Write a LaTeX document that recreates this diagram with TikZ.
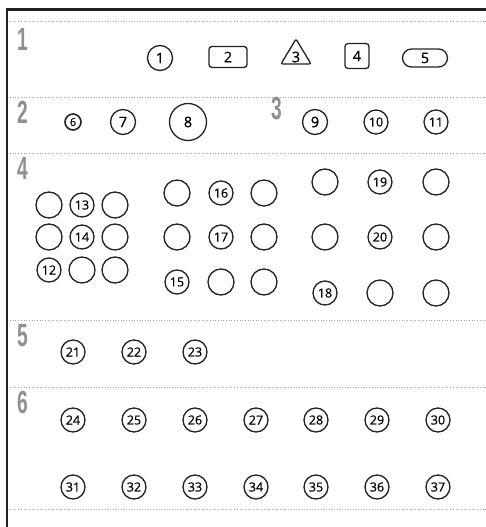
\documentclass[tikz,border=0pt]{standalone}
\usepackage{fontspec}
\setmainfont{Open Sans}[FakeBold=0.6]
\newfontfamily\secfont{Liberation Sans}
\usetikzlibrary{shapes.geometric}
\definecolor{seccol}{HTML}{8E9094}
\definecolor{inkcol}{HTML}{222222}
\begin{document}
\begin{tikzpicture}[x=1pt,y=-1pt,
  sep/.style={draw=gray!70,dotted,line width=0.7pt},
  seclabel/.style={anchor=north west,inner sep=0pt,text=seccol,font=\secfont\bfseries\fontsize{32}{32}\selectfont,xscale=0.6},
  cnum/.style={circle,draw=inkcol,line width=1.3pt,minimum size=25pt,inner sep=0pt,font=\fontsize{14.5}{14.5}\selectfont},
  cpl/.style={circle,draw=inkcol,line width=1.3pt,minimum size=26pt,inner sep=0pt},
  cnsm/.style={circle,draw=inkcol,line width=1.3pt,minimum size=24pt,inner sep=0pt,font=\fontsize{12.5}{12.5}\selectfont},
]
\useasboundingbox (0,0) rectangle (486,527);
\fill[white] (0,0) rectangle (486,527);
% frame
\draw[inkcol,line width=2.6pt] (7,527) -- (7,9.5) -- (486,9.5);
% separators
\foreach \yy [count=\i] in {21,97,153,320,387,509}
  \draw[sep] (10,\yy) coordinate (sl\i) -- (486,\yy) coordinate (sr\i);
% section labels
\node[seclabel] (s1) at (17,28) {1};
\node[seclabel] (s2) at (17,101) {2};
\node[seclabel] (s3) at (271,97) {3};
\node[seclabel] (s4) at (17,157) {4};
\node[seclabel] (s5) at (17,324) {5};
\node[seclabel] (s6) at (17,391) {6};
% row 1
\node[cnum] (n1) at (160,58) {1};
\node[draw=inkcol,line width=1.3pt,rounded corners=3pt,minimum width=38pt,minimum height=21pt,inner sep=0pt,font=\fontsize{14.5}{14.5}\selectfont] (n2) at (228,57) {2};
\node[isosceles triangle,isosceles triangle apex angle=62,shape border rotate=90,draw=inkcol,line width=1.3pt,rounded corners=2pt,minimum height=25pt,inner sep=0pt] (n3) at (296,55.5) {};
\node[font=\fontsize{14.5}{14.5}\selectfont,inner sep=0pt] (n3t) at (296,57) {3};
\node[draw=inkcol,line width=1.3pt,rounded corners=3pt,minimum width=24pt,minimum height=25pt,inner sep=0pt,font=\fontsize{14.5}{14.5}\selectfont] (n4) at (357,56) {4};
\node[draw=inkcol,line width=1.3pt,rounded corners=9pt,minimum width=45pt,minimum height=18pt,inner sep=0pt,font=\fontsize{14.5}{14.5}\selectfont] (n5) at (425,58) {5};
% row 2
\node[circle,draw=inkcol,line width=1.6pt,minimum size=16pt,inner sep=0pt,font=\fontsize{11}{11}\selectfont] (n6) at (73,122) {6};
\node[cnum] (n7) at (123,122) {7};
\node[circle,draw=inkcol,line width=1.3pt,minimum size=37pt,inner sep=0pt,font=\fontsize{14.5}{14.5}\selectfont] (n8) at (188,122) {8};
\node[cnum] (n9) at (315,122) {9};
\node[cnsm] (n10) at (376,122) {10};
\node[cnsm] (n11) at (436,122) {11};
% section 4 left grid
\node[cpl] (a11) at (49,205) {};
\node[cnsm] (n13) at (82,205) {13};
\node[cpl] (a13) at (115,205) {};
\node[cpl] (a21) at (49,237) {};
\node[cnsm] (n14) at (82,237) {14};
\node[cpl] (a23) at (115,237) {};
\node[cnsm] (n12) at (49,270) {12};
\node[cpl] (a32) at (82,270) {};
\node[cpl] (a33) at (115,270) {};
% middle grid
\node[cpl] (b11) at (177,193) {};
\node[cnsm] (n16) at (221,193) {16};
\node[cpl] (b13) at (264,193) {};
\node[cpl] (b21) at (177,237) {};
\node[cnsm] (n17) at (221,237) {17};
\node[cpl] (b23) at (264,237) {};
\node[cnsm] (n15) at (177,282) {15};
\node[cpl] (b32) at (221,282) {};
\node[cpl] (b33) at (264,282) {};
% right grid
\node[cpl] (c11) at (325,182) {};
\node[cnsm] (n19) at (380,182) {19};
\node[cpl] (c13) at (436,182) {};
\node[cpl] (c21) at (325,237) {};
\node[cnsm] (n20) at (380,237) {20};
\node[cpl] (c23) at (436,237) {};
\node[cnsm] (n18) at (325,293) {18};
\node[cpl] (c32) at (380,293) {};
\node[cpl] (c33) at (436,293) {};
% section 5
\node[cnsm] (n21) at (73,352) {21};
\node[cnsm] (n22) at (134,352) {22};
\node[cnsm] (n23) at (195,352) {23};
% section 6
\foreach \xx [count=\k from 24] in {73,134,195,256,316,377,438}
  \node[cnsm] (n\k) at (\xx,420) {\k};
\foreach \xx [count=\k from 31] in {73,134,195,256,316,377,438}
  \node[cnsm] (n\k) at (\xx,487) {\k};
\end{tikzpicture}
\end{document}
